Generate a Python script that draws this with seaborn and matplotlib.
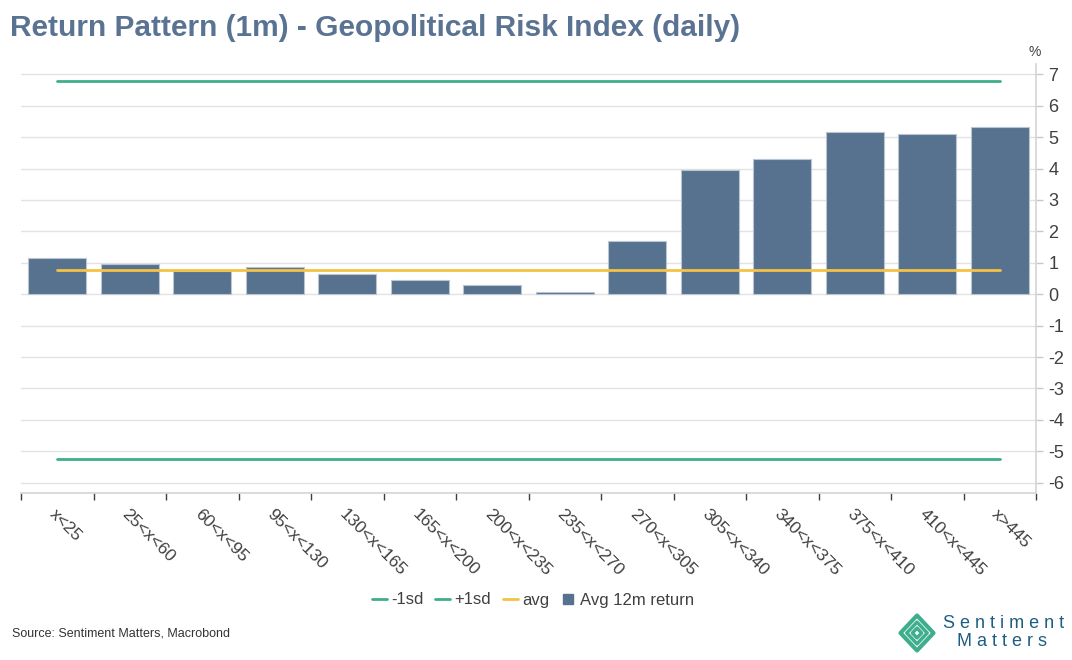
import matplotlib
matplotlib.use("Agg")
import matplotlib.pyplot as plt
import seaborn as sns
import numpy as np
from matplotlib.lines import Line2D
from matplotlib.patches import Polygon

categories = ["x<25", "25<x<60", "60<x<95", "95<x<130", "130<x<165", "165<x<200",
              "200<x<235", "235<x<270", "270<x<305", "305<x<340", "340<x<375",
              "375<x<410", "410<x<445", "x>445"]
avg_12m_return = [1.14, 0.96, 0.74, 0.87, 0.65, 0.46, 0.29, 0.06, 1.69, 3.96, 4.31, 5.17, 5.11, 5.33]
minus_1sd = -5.24
plus_1sd = 6.78
avg_value = 0.78
y_ticks = list(range(-6, 8))

sns.set_theme(style="white")
plt.rcParams['font.family'] = ['Liberation Sans', 'DejaVu Sans']

BAR = "#57728F"
GREEN = "#3FAE8C"
YELLOW = "#F6C244"
GRID = "#E2E2E2"
TXT = "#404040"

fig = plt.figure(figsize=(10.72, 6.6), dpi=100)
ax = fig.add_axes([21/1072, 1-493/660, (1036-21)/1072, (493-64)/660])

sns.barplot(x=categories, y=avg_12m_return, color=BAR, saturation=1, width=0.8,
            edgecolor="#B8C5D2", linewidth=0.8, ax=ax, zorder=3)

xs = np.arange(len(categories))
ax.plot([xs[0], xs[-1]], [minus_1sd, minus_1sd], color=GREEN, lw=2, zorder=4)
ax.plot([xs[0], xs[-1]], [plus_1sd, plus_1sd], color=GREEN, lw=2, zorder=4)
ax.plot([xs[0], xs[-1]], [avg_value, avg_value], color=YELLOW, lw=2, zorder=4)

ax.set_xlim(-0.5, len(categories) - 0.5)
ax.set_ylim(-6.33, 7.33)

# y axis on right
ax.yaxis.tick_right()
ax.set_yticks(y_ticks)
ax.set_yticklabels([str(t) for t in y_ticks], fontsize=13, color=TXT)
ax.tick_params(axis='y', which='major', length=5, width=1, color="#C8C8C8", pad=4, right=True, left=False)
ax.grid(axis='y', color=GRID, lw=1, zorder=0)
ax.set_axisbelow(True)

# x ticks
ax.set_xticks(xs)
ax.set_xticklabels(categories, rotation=-45, ha='left', va='top', rotation_mode='anchor',
                   fontsize=12.5, color=TXT)
ax.tick_params(axis='x', which='major', length=0, pad=10)
ax.set_xticks(np.arange(-0.5, len(categories), 1.0), minor=True)
ax.tick_params(axis='x', which='minor', length=5, width=1, color="#404040", bottom=True)

for s in ['left', 'top']:
    ax.spines[s].set_visible(False)
ax.spines['right'].set_color("#D6D6D6")
ax.spines['bottom'].set_color("#D6D6D6")
ax.set_xlabel("")
ax.set_ylabel("")

fig.text(1035/1072, 1-52/660, "%", fontsize=10, color=TXT, ha='center', va='center')

fig.text(10/1072, 1-28/660, "Return Pattern (1m) - Geopolitical Risk Index (daily)",
         fontsize=21.5, fontweight='bold', color="#5A7392", ha='left', va='center')

handles = [Line2D([0], [0], color=GREEN, lw=2),
           Line2D([0], [0], color=GREEN, lw=2),
           Line2D([0], [0], color=YELLOW, lw=2),
           Line2D([0], [0], color=BAR, lw=0, marker='s', markersize=7)]
labels = ["-1sd", "+1sd", "avg", "Avg 12m return"]
fig.legend(handles, labels, loc='center', bbox_to_anchor=(533/1072, 1-600/660), ncol=4,
           frameon=False, fontsize=12, handlelength=0.9, handletextpad=0.25,
           columnspacing=0.7, labelcolor=TXT)

fig.text(12/1072, 1-633/660, "Source: Sentiment Matters, Macrobond", fontsize=9,
         color="#333333", ha='left', va='center')

# logo
lax = fig.add_axes([895/1072, 1-654/660, 44/1072, 42/660])
lax.set_xlim(-1.2, 1.2)
lax.set_ylim(-1.2, 1.2)
lax.axis('off')
for r, lw in [(1.0, 3), (0.62, 2.5), (0.28, 2.5)]:
    lax.add_patch(Polygon([[0, r], [r * 0.9, 0], [0, -r], [-r * 0.9, 0]], closed=True,
                          fill=False, edgecolor="#3FAE8C", lw=lw, joinstyle='round'))
fig.text(1004/1072, 1-624/660, "S e n t i m e n t", fontsize=13, color="#1E5E82",
         ha='center', va='center')
fig.text(1002/1072, 1-641/660, "M a t t e r s", fontsize=13, color="#1E5E82",
         ha='center', va='center')

fig.savefig("out.png", dpi=100)
